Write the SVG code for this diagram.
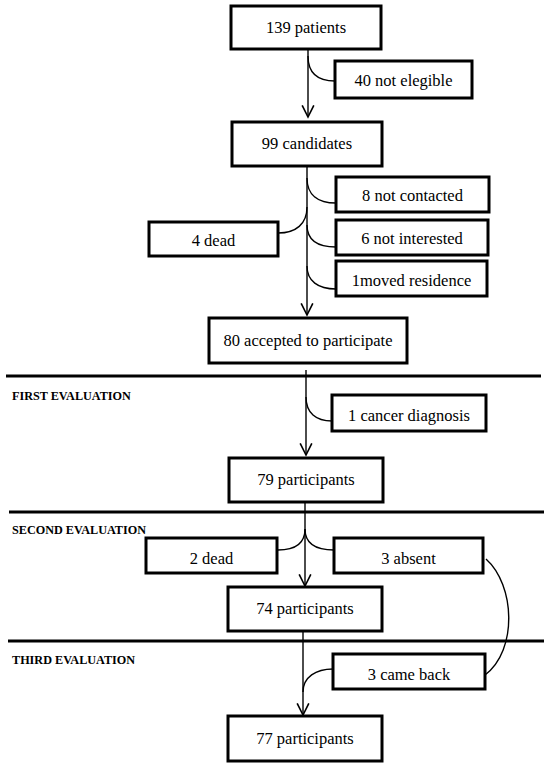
<svg xmlns="http://www.w3.org/2000/svg" width="550" height="767" viewBox="0 0 550 767">
<style>
.box{fill:#fff;stroke:#000;stroke-width:3}
.t{font-family:"Liberation Serif","Times New Roman",serif;font-size:16.5px;text-anchor:middle;fill:#000}
.lbl{font-family:"Liberation Serif","Times New Roman",serif;font-size:12.2px;font-weight:bold;fill:#000}
.sep{stroke:#000;stroke-width:3}
.c{fill:none;stroke:#000;stroke-width:1.4}
</style>
<defs>
<marker id="arrow" markerUnits="userSpaceOnUse" markerWidth="14" markerHeight="14" refX="10" refY="5.5" orient="auto" viewBox="0 0 12 11">
<path d="M0,0.5 L10,5.5 L0,10.5" fill="none" stroke="#000" stroke-width="1.4"/>
</marker>
</defs>
<g id="separators">
<line class="sep" x1="6" y1="376" x2="541" y2="376"/>
<line class="sep" x1="9" y1="512" x2="544" y2="512"/>
<line class="sep" x1="8" y1="641" x2="544" y2="641"/>
<text class="lbl" x="12" y="400">FIRST EVALUATION</text>
<text class="lbl" x="12" y="534">SECOND EVALUATION</text>
<text class="lbl" x="12" y="664">THIRD EVALUATION</text>
</g>
<g id="connectors">
<path class="c" d="M308,43 V117" marker-end="url(#arrow)"/>
<path class="c" d="M307,166 V315" marker-end="url(#arrow)"/>
<path class="c" d="M306,370 V455" marker-end="url(#arrow)"/>
<path class="c" d="M305,502 V586" marker-end="url(#arrow)"/>
<path class="c" d="M303,624 V715" marker-end="url(#arrow)"/>
<path class="c" d="M308,56 C308,73 318,81 335,81"/>
<path class="c" d="M307,178 C307,195 318,203 336,203"/>
<path class="c" d="M307,207 C307,224 296,233 278,233"/>
<path class="c" d="M307,225 C307,240 318,247 336,247"/>
<path class="c" d="M307,266 C307,281 318,289 336,289"/>
<path class="c" d="M306,397 C306,413 316,421 332,421"/>
<path class="c" d="M305,529 C305,544 294,550 278,550"/>
<path class="c" d="M305,529 C305,544 316,550 334,550"/>
<path class="c" d="M333,669 C316,669 303,677 303,692"/>
<path class="c" d="M486,559 C515,585 518,650 485,675"/>
</g>
<g id="n139"><rect class="box" x="231" y="6" width="150" height="43"/><text class="t" x="306" y="33">139 patients</text></g>
<g id="n40"><rect class="box" x="335" y="61" width="137" height="37"/><text class="t" x="403.5" y="86">40 not elegible</text></g>
<g id="n99"><rect class="box" x="232" y="122" width="150" height="44"/><text class="t" x="307" y="149">99 candidates</text></g>
<g id="n8"><rect class="box" x="336" y="177" width="153" height="35"/><text class="t" x="412.5" y="201">8 not contacted</text></g>
<g id="n6"><rect class="box" x="336" y="220" width="152" height="35"/><text class="t" x="412" y="244">6 not interested</text></g>
<g id="n1m"><rect class="box" x="336" y="261" width="151" height="35"/><text class="t" x="411.5" y="286">1moved residence</text></g>
<g id="n4d"><rect class="box" x="149" y="222" width="129" height="34"/><text class="t" x="213.5" y="246">4 dead</text></g>
<g id="n80"><rect class="box" x="209" y="318" width="198" height="45"/><text class="t" x="308" y="346">80 accepted to participate</text></g>
<g id="n1c"><rect class="box" x="332" y="395" width="154" height="36"/><text class="t" x="409" y="421">1 cancer diagnosis</text></g>
<g id="n79"><rect class="box" x="229" y="458" width="154" height="44"/><text class="t" x="306" y="485">79 participants</text></g>
<g id="n2d"><rect class="box" x="146" y="538" width="131" height="35"/><text class="t" x="211.5" y="564">2 dead</text></g>
<g id="n3a"><rect class="box" x="334" y="538" width="149" height="35"/><text class="t" x="408.5" y="564">3 absent</text></g>
<g id="n74"><rect class="box" x="228" y="587" width="154" height="44"/><text class="t" x="305" y="614">74 participants</text></g>
<g id="n3cb"><rect class="box" x="333" y="654" width="152" height="35"/><text class="t" x="409" y="680">3 came back</text></g>
<g id="n77"><rect class="box" x="228" y="716" width="154" height="45"/><text class="t" x="305" y="744">77 participants</text></g>
</svg>
